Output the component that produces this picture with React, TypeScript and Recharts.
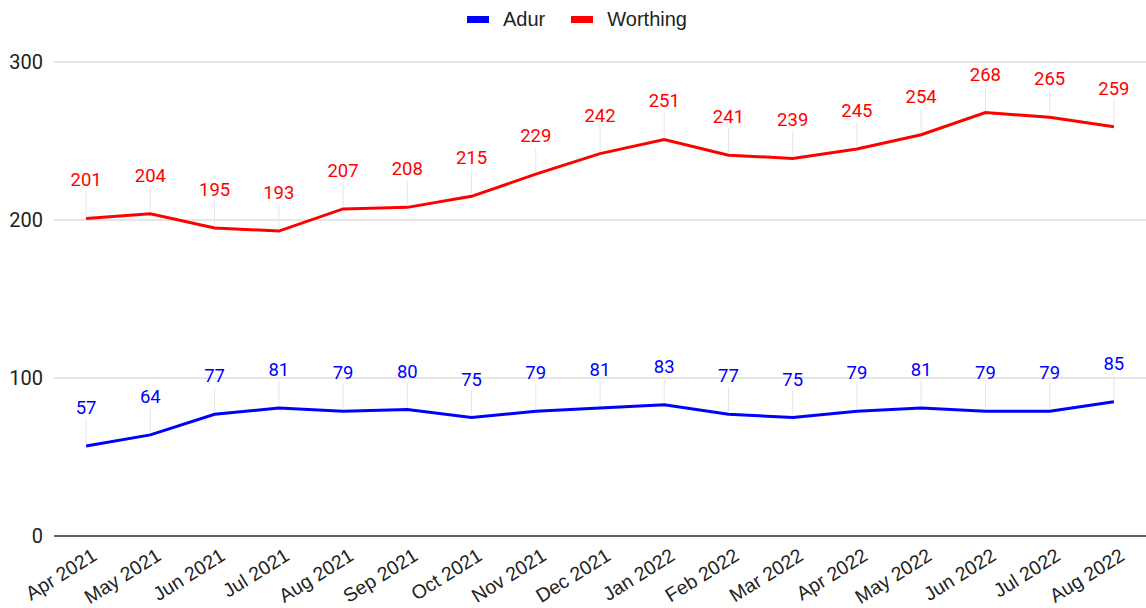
import React from "react";
import { LineChart, Line, XAxis, YAxis, CartesianGrid, Legend, LabelList } from "recharts";

const months = [
  "Apr 2021", "May 2021", "Jun 2021", "Jul 2021", "Aug 2021", "Sep 2021", "Oct 2021", "Nov 2021", "Dec 2021",
  "Jan 2022", "Feb 2022", "Mar 2022", "Apr 2022", "May 2022", "Jun 2022", "Jul 2022", "Aug 2022",
];
const adur = [57, 64, 77, 81, 79, 80, 75, 79, 81, 83, 77, 75, 79, 81, 79, 79, 85];
const worthing = [201, 204, 195, 193, 207, 208, 215, 229, 242, 251, 241, 239, 245, 254, 268, 265, 259];
const yTicks = [0, 100, 200, 300];

const data = months.map((m, i) => ({ month: m, Adur: adur[i], Worthing: worthing[i] }));

const ROBOTO = "Roboto, 'Noto Sans', sans-serif";
const ARIAL = "'Liberation Sans', Arial, sans-serif";

const makeLabel = (color: string) => (props: any) => {
  const { x, y, value } = props;
  return (
    <g>
      <line x1={x} x2={x} y1={y - 2} y2={y - 27} stroke="#e6e6e6" strokeWidth={1} />
      <text x={x} y={y - 32} textAnchor="middle" fill={color} fontSize={18.5} fontFamily={ROBOTO}>
        {value}
      </text>
    </g>
  );
};

const XTick = (props: any) => {
  const { x, y, payload } = props;
  const ax = x + 12;
  const ay = y + 15;
  return (
    <text x={ax} y={ay} textAnchor="end" fill="#222" fontSize={19.5} fontFamily={ARIAL} transform={`rotate(-32, ${ax}, ${ay})`}>
      {payload.value}
    </text>
  );
};

const LegendContent = () => (
  <div style={{ display: "flex", justifyContent: "center", gap: 26, fontFamily: ARIAL, fontSize: 20, color: "#222", paddingLeft: 8 }}>
    {[
      { name: "Adur", color: "#0000ff" },
      { name: "Worthing", color: "#ff0000" },
    ].map((s) => (
      <div key={s.name} style={{ display: "flex", alignItems: "center" }}>
        <span style={{ display: "inline-block", width: 22, height: 7, background: s.color, marginRight: 14 }} />
        {s.name}
      </div>
    ))}
  </div>
);

export default function App() {
  return (
    <div style={{ position: "absolute", left: 0, top: 0, background: "#fff" }}>
      <LineChart width={1146} height={608} data={data} margin={{ top: 30, right: 0, bottom: 0, left: 0 }}>
        <Legend verticalAlign="top" height={32} content={<LegendContent />} wrapperStyle={{ top: 8 }} />
        <CartesianGrid vertical={false} stroke="#cccccc" />
        <XAxis
          dataKey="month"
          scale="band"
          height={72}
          tick={<XTick />}
          tickLine={false}
          axisLine={{ stroke: "#333", strokeWidth: 1.5 }}
          interval={0}
        />
        <YAxis
          domain={[0, 300]}
          ticks={yTicks}
          width={54}
          tickLine={false}
          axisLine={false}
          tick={{ fill: "#222", fontSize: 20, fontFamily: ROBOTO }}
          tickMargin={5}
        />
        <Line type="linear" dataKey="Adur" stroke="#0000ff" strokeWidth={3} dot={false} isAnimationActive={false}>
          <LabelList dataKey="Adur" content={makeLabel("#0000ff")} />
        </Line>
        <Line type="linear" dataKey="Worthing" stroke="#ff0000" strokeWidth={3} dot={false} isAnimationActive={false}>
          <LabelList dataKey="Worthing" content={makeLabel("#ff0000")} />
        </Line>
      </LineChart>
    </div>
  );
}
